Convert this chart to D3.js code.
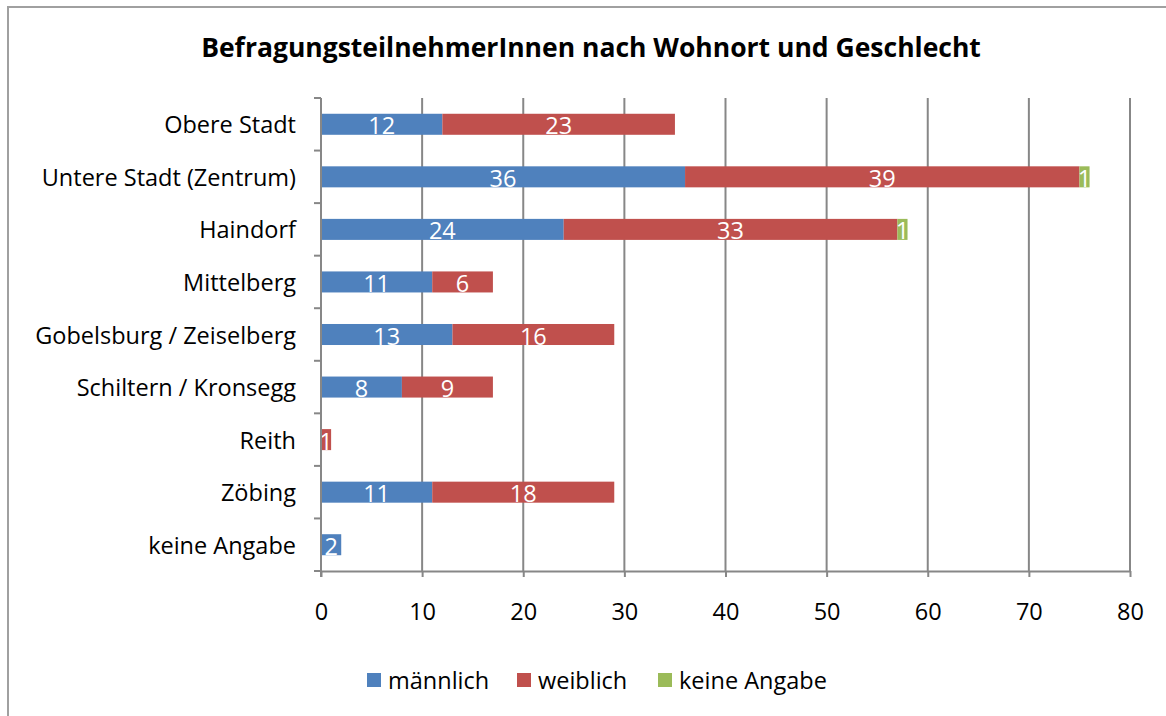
<!DOCTYPE html>
<html><head><meta charset="utf-8">
<script src="https://cdn.jsdelivr.net/npm/d3@7"></script>
<style>
html,body{margin:0;padding:0;background:#fff;overflow:hidden;}
svg{display:block;}
text{font-family:"Open Sans","Liberation Sans",sans-serif;}
</style></head>
<body>
<svg id="chart" width="1166" height="716"></svg>
<script>
const categories = ["Obere Stadt","Untere Stadt (Zentrum)","Haindorf","Mittelberg","Gobelsburg / Zeiselberg","Schiltern / Kronsegg","Reith","Zöbing","keine Angabe"];
const maennlich = [12,36,24,11,13,8,0,11,2];
const weiblich = [23,39,33,6,16,9,1,18,0];
const keineAngabe = [0,1,1,0,0,0,0,0,0];
const seriesNames = ["männlich","weiblich","keine Angabe"];
const seriesColors = ["#4F81BD","#C0504D","#9BBB59"];
const xTicks = [0,10,20,30,40,50,60,70,80];
const title = "BefragungsteilnehmerInnen nach Wohnort und Geschlecht";

const svg = d3.select("#chart");
const W = 1166, H = 716;
const m = {left:321, right:36, top:98, bottom:145};
const FS = 23.5;

svg.append("rect").attr("x",8).attr("y",7).attr("width",W+20).attr("height",H+20)
  .attr("fill","#fff").attr("stroke","#a0a0a0").attr("stroke-width",2);

const x = d3.scaleLinear().domain([0,80]).range([m.left, W-m.right]);
const y = d3.scaleBand().domain(categories).range([m.top, H-m.bottom]).paddingInner(0.6).paddingOuter(0.3);

// gridlines
svg.append("g").selectAll("line").data(xTicks.slice(1)).join("line")
  .attr("x1",d=>x(d)).attr("x2",d=>x(d)).attr("y1",m.top).attr("y2",H-m.bottom)
  .attr("stroke","#878787").attr("stroke-width",2);

const rows = categories.map((c,i)=>({cat:c, vals:[maennlich[i],weiblich[i],keineAngabe[i]]}));
const stack = d3.stack().keys([0,1,2]).value((d,k)=>d.vals[k])(rows);

stack.forEach((layer,si)=>{
  const g = svg.append("g");
  layer.forEach((seg,ri)=>{
    const v = seg[1]-seg[0];
    if(v<=0) return;
    g.append("rect").attr("x",x(seg[0])).attr("y",y(categories[ri]))
      .attr("width",x(seg[1])-x(seg[0])).attr("height",y.bandwidth())
      .attr("fill",seriesColors[si]);
    g.append("text").attr("x",(x(seg[0])+x(seg[1]))/2).attr("y",y(categories[ri])+y.bandwidth()/2+1)
      .attr("text-anchor","middle").attr("dominant-baseline","central")
      .attr("fill","#fff").attr("font-size",FS).text(v);
  });
});

// x axis
const xa = svg.append("g").attr("transform",`translate(0,${H-m.bottom})`)
  .call(d3.axisBottom(x).tickValues(xTicks).tickSize(6).tickPadding(26).tickSizeOuter(0));
xa.select(".domain").attr("stroke","#878787").attr("stroke-width",2);
xa.selectAll(".tick line").attr("stroke","#878787").attr("stroke-width",2);
xa.selectAll(".tick text").attr("font-size",FS).attr("fill","#000").attr("font-family","'Open Sans','Liberation Sans',sans-serif");

// y axis with ticks at band boundaries
const yg = svg.append("g");
yg.append("line").attr("x1",m.left).attr("x2",m.left).attr("y1",m.top).attr("y2",H-m.bottom+6)
  .attr("stroke","#878787").attr("stroke-width",2);
const step = (H-m.bottom-m.top)/categories.length;
const boundaries = d3.range(categories.length+1).map(i=>m.top+i*step);
yg.selectAll("line.tk").data(boundaries).join("line").attr("class","tk")
  .attr("x1",m.left-7).attr("x2",m.left).attr("y1",d=>d).attr("y2",d=>d)
  .attr("stroke","#878787").attr("stroke-width",2);
yg.selectAll("text").data(categories).join("text")
  .attr("x",m.left-25).attr("y",d=>y(d)+y.bandwidth()/2)
  .attr("text-anchor","end").attr("dominant-baseline","central")
  .attr("font-size",FS).attr("fill","#000").text(d=>d);

// title
svg.append("text").attr("x",591).attr("y",47).attr("text-anchor","middle").attr("dominant-baseline","central")
  .attr("font-size",26.5).attr("font-weight","bold").attr("fill","#000").text(title);

// legend
const legX = [367,517,658];
const lg = svg.append("g");
seriesNames.forEach((n,i)=>{
  lg.append("rect").attr("x",legX[i]).attr("y",673).attr("width",14).attr("height",14).attr("fill",seriesColors[i]);
  lg.append("text").attr("x",legX[i]+21).attr("y",680).attr("dominant-baseline","central")
    .attr("font-size",FS).attr("fill","#000").text(n);
});
</script>
</body></html>
